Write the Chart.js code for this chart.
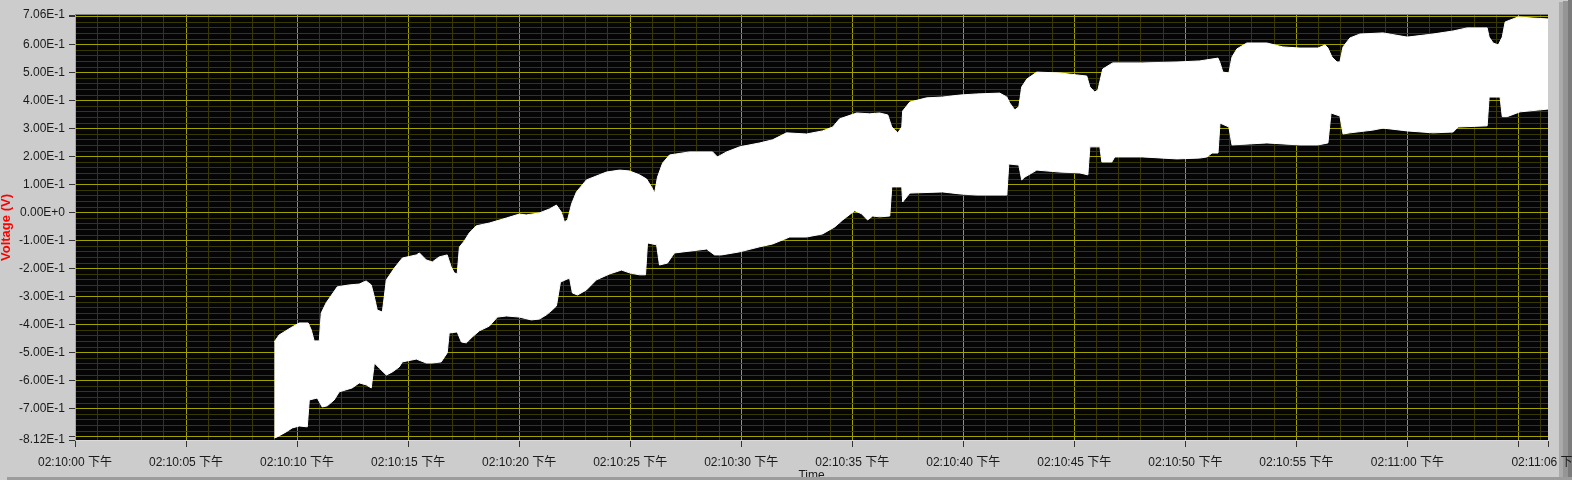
<!DOCTYPE html>
<html>
<head>
<meta charset="utf-8">
<title>Voltage (V)</title>
<script src="https://cdn.jsdelivr.net/npm/chart.js@4.4.0/dist/chart.umd.min.js"></script>
<style>
  html, body { margin: 0; padding: 0; background: #cccccc; overflow: hidden; }
  #grafico { display: block; }
</style>
</head>
<body>
<canvas id="grafico" width="1572" height="480"></canvas>
<script>
// segundos depois de 02:10:00 下午 -> envelope superior / inferior do sinal
const upperTime = [8.97, 9.19, 9.78, 10.10, 10.50, 10.64, 10.77, 11.00, 11.09, 11.31,
    11.81, 12.35, 12.80, 13.11, 13.34, 13.48, 13.61, 13.84, 14.02, 14.38,
    14.74, 15.37, 15.51, 15.82, 16.09, 16.40, 16.76, 16.94, 17.08, 17.21,
    17.31, 17.53, 17.76, 18.07, 18.66, 19.43, 20.01, 20.32, 20.91, 21.36,
    21.68, 21.90, 22.04, 22.18, 22.36, 22.58, 23.03, 23.93, 24.52, 24.97,
    25.42, 25.74, 25.96, 26.10, 26.23, 26.46, 26.77, 27.67, 28.71, 28.93,
    29.34, 29.93, 30.83, 31.41, 32.04, 32.94, 33.66, 34.12, 34.43, 35.20,
    35.78, 36.23, 36.60, 36.78, 37.05, 37.23, 37.27, 37.59, 38.35, 39.07,
    39.84, 40.60, 41.64, 41.96, 42.09, 42.32, 42.50, 42.63, 42.86, 43.31,
    44.35, 45.11, 45.56, 45.70, 45.92, 46.06, 46.28, 46.73, 48.08, 49.62,
    50.65, 51.47, 51.56, 51.69, 51.96, 52.10, 52.32, 52.77, 53.67, 54.39,
    55.16, 55.97, 56.29, 56.42, 56.60, 56.83, 56.96, 57.10, 57.41, 57.86,
    58.90, 59.99, 61.15, 62.06, 62.69, 63.59, 63.68, 63.86, 64.09, 64.27,
    64.40, 64.98, 65.66, 66.33];
const upperVolt = [-0.462, -0.437, -0.408, -0.394, -0.394, -0.419, -0.458, -0.458, -0.358, -0.322,
    -0.265, -0.258, -0.255, -0.244, -0.258, -0.301, -0.348, -0.355, -0.240, -0.198,
    -0.162, -0.151, -0.144, -0.169, -0.176, -0.158, -0.151, -0.194, -0.215, -0.219,
    -0.123, -0.101, -0.072, -0.047, -0.037, -0.019, -0.005, -0.008, -0.001, 0.013,
    0.027, 0.002, -0.033, -0.026, 0.031, 0.074, 0.117, 0.145, 0.152, 0.149,
    0.135, 0.120, 0.092, 0.070, 0.127, 0.177, 0.206, 0.217, 0.217, 0.199,
    0.217, 0.235, 0.249, 0.260, 0.285, 0.281, 0.292, 0.306, 0.335, 0.356,
    0.353, 0.356, 0.349, 0.306, 0.285, 0.306, 0.363, 0.395, 0.410, 0.413,
    0.420, 0.424, 0.427, 0.413, 0.392, 0.367, 0.378, 0.449, 0.477, 0.502,
    0.499, 0.492, 0.488, 0.449, 0.431, 0.438, 0.513, 0.535, 0.535, 0.538,
    0.542, 0.552, 0.535, 0.502, 0.499, 0.556, 0.585, 0.606, 0.606, 0.592,
    0.588, 0.588, 0.599, 0.588, 0.556, 0.538, 0.538, 0.592, 0.624, 0.638,
    0.642, 0.627, 0.638, 0.649, 0.660, 0.660, 0.627, 0.606, 0.599, 0.627,
    0.681, 0.699, 0.695, 0.692];

const lowerTime = [8.97, 9.10, 9.51, 9.78, 10.10, 10.46, 10.55, 10.91, 11.13, 11.36,
    11.67, 11.90, 12.48, 12.80, 13.11, 13.34, 13.48, 13.70, 14.02, 14.29,
    14.60, 14.74, 15.37, 15.82, 16.09, 16.49, 16.76, 16.85, 17.21, 17.40,
    17.62, 17.89, 18.21, 18.66, 19.02, 19.43, 20.01, 20.55, 20.91, 21.23,
    21.50, 21.68, 21.86, 22.27, 22.40, 22.63, 23.03, 23.48, 24.07, 24.61,
    24.97, 25.42, 25.69, 25.78, 26.19, 26.32, 26.68, 26.99, 28.44, 28.80,
    29.11, 29.93, 30.83, 31.41, 32.18, 32.94, 33.66, 34.21, 34.57, 35.11,
    35.42, 35.69, 35.92, 36.23, 36.69, 36.78, 37.23, 37.27, 37.59, 39.07,
    39.84, 40.60, 41.96, 42.05, 42.50, 42.63, 42.77, 43.31, 44.35, 45.25,
    45.61, 45.70, 46.15, 46.24, 46.69, 46.82, 48.08, 49.62, 50.65, 50.97,
    51.20, 51.47, 51.56, 51.96, 52.10, 53.67, 55.16, 55.97, 56.42, 56.56,
    56.96, 57.10, 57.41, 58.45, 58.90, 59.99, 61.15, 62.06, 62.28, 63.59,
    63.68, 64.17, 64.27, 64.49, 65.07, 66.33];
const lowerVolt = [-0.805, -0.801, -0.783, -0.769, -0.762, -0.765, -0.669, -0.662, -0.694, -0.690,
    -0.669, -0.640, -0.626, -0.608, -0.615, -0.626, -0.537, -0.555, -0.580, -0.569,
    -0.551, -0.533, -0.523, -0.537, -0.537, -0.533, -0.501, -0.430, -0.426, -0.462,
    -0.465, -0.444, -0.422, -0.405, -0.373, -0.369, -0.373, -0.383, -0.380, -0.365,
    -0.347, -0.333, -0.248, -0.233, -0.287, -0.294, -0.276, -0.240, -0.219, -0.205,
    -0.215, -0.222, -0.222, -0.108, -0.115, -0.187, -0.180, -0.144, -0.130, -0.151,
    -0.151, -0.140, -0.122, -0.112, -0.087, -0.087, -0.076, -0.051, -0.026, 0.007,
    -0.004, -0.026, -0.012, -0.015, -0.012, 0.092, 0.092, 0.038, 0.070, 0.074,
    0.067, 0.063, 0.063, 0.174, 0.170, 0.117, 0.127, 0.152, 0.145, 0.142,
    0.135, 0.235, 0.235, 0.181, 0.181, 0.199, 0.199, 0.192, 0.195, 0.199,
    0.213, 0.213, 0.320, 0.306, 0.242, 0.249, 0.242, 0.242, 0.249, 0.356,
    0.345, 0.281, 0.285, 0.295, 0.302, 0.292, 0.285, 0.288, 0.306, 0.310,
    0.413, 0.413, 0.343, 0.343, 0.360, 0.370];

// eixos
const xTickValues = [0, 5, 10, 15, 20, 25, 30, 35, 40, 45, 50, 55, 60, 66.33];
const xTickLabels = ['02:10:00 下午', '02:10:05 下午', '02:10:10 下午', '02:10:15 下午',
    '02:10:20 下午', '02:10:25 下午', '02:10:30 下午', '02:10:35 下午', '02:10:40 下午',
    '02:10:45 下午', '02:10:50 下午', '02:10:55 下午', '02:11:00 下午', '02:11:06 下午'];
const yLabelValues = [0.706, 0.6, 0.5, 0.4, 0.3, 0.2, 0.1, 0, -0.1, -0.2, -0.3, -0.4, -0.5, -0.6, -0.7, -0.812];
const xMin = 0, xMax = 66.33;
const yMin = -0.812, yMax = 0.706;

const COR_MAIOR = 'rgb(160,160,0)';
const COR_MENOR = 'rgb(56,56,0)';
const COR_TRACO = '#333333';

function pontos(xs, ys) {
    return xs.map((x, i) => ({ x: x, y: ys[i] }));
}

function perto(a, b) {
    return Math.abs(a - b) < 1e-6;
}

function ehMultiplo(v, passo) {
    const q = v / passo;
    return Math.abs(q - Math.round(q)) < 1e-6;
}

function formatarVolt(v) {
    return v.toExponential(2).replace('e', 'E');
}

// linhas de grade: menores a cada 1 s / 0.02 V
const xGrade = [];
for (let s = 0; s <= 66; s++) xGrade.push(s);
xGrade.push(xMax);

const yGrade = [yMin];
for (let i = -40; i <= 35; i++) yGrade.push(+(i * 0.02).toFixed(2));
yGrade.push(yMax);

const fundoPlugin = {
    id: 'fundo',
    beforeDraw(chart) {
        const { ctx, chartArea: a, width, height } = chart;
        ctx.save();
        ctx.fillStyle = '#cccccc';
        ctx.fillRect(0, 0, width, height);
        ctx.fillStyle = '#aaaaaa';
        ctx.fillRect(width - 13, 2, 4, height);
        ctx.fillStyle = '#959595';
        ctx.fillRect(width - 9, 1, 5, height);
        ctx.fillStyle = '#7b7b7b';
        ctx.fillRect(width - 4, 0, 4, height);
        ctx.fillStyle = '#050505';
        ctx.fillRect(a.left, a.top, a.right - a.left, a.bottom - a.top);
        ctx.restore();
    },
    afterDraw(chart) {
        const { ctx, chartArea: a, width, height } = chart;
        ctx.save();
        ctx.strokeStyle = '#7d7d7d';
        ctx.lineWidth = 1;
        ctx.beginPath();
        ctx.moveTo(a.left, a.top - 0.5);
        ctx.lineTo(a.right, a.top - 0.5);
        ctx.stroke();
        ctx.fillStyle = '#9c9c9c';
        ctx.fillRect(7, height - 3, width - 7, 3);
        ctx.restore();
    }
};

Chart.defaults.font.family = '"Liberation Sans", Arial, "Noto Sans CJK SC", sans-serif';
Chart.defaults.font.size = 12;
Chart.defaults.color = '#1a1a1a';

const grafico = new Chart(document.getElementById('grafico').getContext('2d'), {
    type: 'line',
    data: {
        datasets: [{
            label: 'max',
            data: pontos(upperTime, upperVolt),
            borderColor: '#ffffff',
            borderWidth: 1,
            pointRadius: 0,
            tension: 0,
            fill: false
        }, {
            label: 'min',
            data: pontos(lowerTime, lowerVolt),
            borderColor: '#ffffff',
            backgroundColor: '#ffffff',
            borderWidth: 1,
            pointRadius: 0,
            tension: 0,
            fill: '-1'
        }]
    },
    options: {
        responsive: false,
        animation: false,
        devicePixelRatio: 1,
        layout: { padding: { left: 0, top: 15, right: 24, bottom: 0 } },
        plugins: {
            legend: { display: false },
            tooltip: { enabled: false }
        },
        scales: {
            x: {
                type: 'linear',
                position: 'bottom',
                min: xMin,
                max: xMax,
                afterBuildTicks: (axis) => { axis.ticks = xGrade.map(v => ({ value: v })); },
                afterFit: (scale) => { scale.height = 40; scale.paddingLeft = 0; scale.paddingRight = 0; },
                ticks: {
                    autoSkip: false,
                    maxRotation: 0,
                    minRotation: 0,
                    padding: 8,
                    color: '#1a1a1a',
                    callback: (value) => {
                        const i = xTickValues.findIndex(v => perto(v, value));
                        return i >= 0 ? xTickLabels[i] : '';
                    }
                },
                grid: {
                    lineWidth: 1,
                    drawTicks: true,
                    tickLength: 7,
                    color: (c) => {
                        const v = c.tick ? c.tick.value : 0;
                        if (perto(v, xMax)) return 'rgba(0,0,0,0)';
                        return ehMultiplo(v, 5) ? COR_MAIOR : COR_MENOR;
                    },
                    tickColor: (c) => {
                        const v = c.tick ? c.tick.value : 0;
                        return (ehMultiplo(v, 5) || perto(v, xMax)) ? COR_TRACO : 'rgba(0,0,0,0)';
                    }
                },
                border: { display: true, color: '#dcdcdc', width: 1 },
                title: {
                    display: true,
                    text: 'Time',
                    color: '#1a1a1a',
                    font: { size: 12 },
                    padding: { top: 0, bottom: -3 }
                }
            },
            y: {
                type: 'linear',
                position: 'left',
                min: yMin,
                max: yMax,
                afterBuildTicks: (axis) => { axis.ticks = yGrade.map(v => ({ value: v })); },
                afterFit: (scale) => { scale.width = 75; scale.paddingTop = 0; scale.paddingBottom = 0; },
                ticks: {
                    autoSkip: false,
                    padding: 4,
                    color: '#1a1a1a',
                    callback: (value) => {
                        const v = yLabelValues.find(l => perto(l, value));
                        return v === undefined ? '' : formatarVolt(v);
                    }
                },
                grid: {
                    lineWidth: 1,
                    drawTicks: true,
                    tickLength: 6,
                    color: (c) => {
                        const v = c.tick ? c.tick.value : 0;
                        if (perto(v, yMin) || perto(v, yMax)) return 'rgba(0,0,0,0)';
                        return ehMultiplo(v, 0.1) ? COR_MAIOR : COR_MENOR;
                    },
                    tickColor: (c) => {
                        const v = c.tick ? c.tick.value : 0;
                        return (ehMultiplo(v, 0.1) || perto(v, yMin) || perto(v, yMax)) ? COR_TRACO : 'rgba(0,0,0,0)';
                    }
                },
                border: { display: true, color: '#a8a8a8', width: 1 },
                title: {
                    display: true,
                    text: 'Voltage (V)',
                    color: '#ff0000',
                    font: { size: 13, weight: 'bold' },
                    padding: { top: -1, bottom: 0 }
                }
            }
        }
    },
    plugins: [fundoPlugin]
});
</script>
</body>
</html>
